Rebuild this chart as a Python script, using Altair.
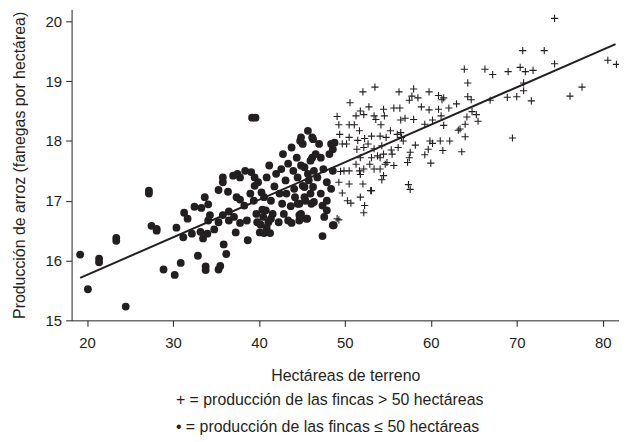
import altair as alt
import pandas as pd

# Fincas <= 50 hectáreas (puntos)
small_x = [19.2, 20.1, 21.4, 21.4, 23.4, 23.4, 24.5, 27.2, 27.2, 27.5, 28.1, 28.1, 28.9, 30.2, 30.4,
           30.9, 31.2, 31.3, 31.7, 32.2, 32.5, 32.9, 33.2, 33.3, 33.7, 33.8, 33.8, 33.5, 34.0, 34.1,
           34.3, 34.1, 34.8, 35.3, 35.3, 35.5, 35.3, 35.8, 35.8, 35.8, 35.9, 36.2, 36.4, 36.5, 36.5,
           37.0, 37.5, 37.8, 37.1, 37.3, 37.4, 37.8, 37.8, 38.3, 38.4, 38.7, 38.6, 39.2, 39.6, 39.1,
           39.5, 39.0, 39.4, 39.5, 39.7, 39.8, 40.1, 40.3, 39.9, 40.5, 40.6, 40.6, 40.8, 40.9, 41.2,
           41.1, 41.4, 41.3, 41.6, 41.8, 42.0, 42.3, 42.4, 42.6, 42.7, 42.8, 42.9, 43.1, 43.2, 43.4,
           43.4, 43.7, 43.8, 43.8, 44.0, 44.1, 44.2, 44.4, 44.5, 44.5, 44.7, 44.8, 44.9, 45.1, 45.3,
           45.3, 45.4, 45.6, 45.7, 45.8, 46.0, 46.2, 46.2, 46.4, 46.4,
           44.8, 46.3, 47.0, 48.4, 48.6, 48.2, 46.6, 47.2, 46.0, 44.9, 47.5, 48.6, 45.7, 46.8, 47.9,
           45.1, 46.3, 48.4, 47.2, 45.3, 47.9, 44.7, 46.1, 47.4, 47.9, 44.9, 47.6, 45.5, 48.6, 47.4,
           44.7, 48.7, 48.8, 40.2, 40.9, 41.4, 40.4]
small_y = [16.10, 15.52, 16.03, 15.97, 16.38, 16.33, 15.23, 17.17, 17.12, 16.58, 16.53, 16.50, 15.85, 15.76, 16.55,
           15.96, 16.39, 16.80, 16.70, 16.45, 16.90, 16.08, 16.48, 16.88, 17.06, 15.90, 15.84, 16.37, 16.45, 16.94,
           16.76, 16.67, 16.52, 16.64, 15.85, 15.91, 17.18, 17.39, 17.31, 16.76, 16.27, 16.11, 17.15, 16.82, 16.67,
           17.42, 17.45, 17.39, 16.73, 16.47, 17.06, 17.02, 16.63, 16.92, 17.50, 16.34, 16.67, 18.39, 18.39, 17.48,
           17.39, 17.12, 17.00, 17.25, 16.78, 16.64, 16.47, 17.14, 17.31, 16.73, 16.46, 17.06, 16.84, 17.39, 17.59,
           16.64, 17.00, 16.46, 16.78, 17.24, 17.45, 16.64, 17.12, 17.53, 16.95, 17.78, 16.78, 17.34, 17.12, 16.67,
           17.62, 16.91, 17.89, 16.63, 17.50, 17.20, 17.06, 17.72, 17.39, 16.95, 16.76, 16.73, 18.06, 17.95, 17.23,
           17.56, 17.00, 16.70, 18.17, 17.34, 17.12, 18.06, 17.72, 16.98, 17.50,
           18.00, 18.03, 17.95, 17.95, 17.86, 17.78, 17.78, 17.72, 17.67, 17.59, 17.53, 17.50, 17.45, 17.39, 17.31,
           17.25, 17.23, 17.20, 17.12, 17.06, 17.00, 16.95, 16.95, 16.92, 16.84, 16.78, 16.73, 16.70, 16.59, 16.41,
           16.67, 16.59, 17.97, 16.60, 16.55, 16.70, 16.85]

# Fincas > 50 hectáreas (cruces)
large_x = [74.4, 70.7, 73.2, 74.4, 80.6, 81.6, 63.9, 66.3, 67.2, 69.0, 70.4, 71.0, 71.9, 64.3, 70.8,
           70.8, 77.6, 76.2, 71.7, 68.9, 70.0, 66.9, 64.3, 64.7, 63.0, 62.1, 64.8, 65.3, 64.2, 65.5,
           64.0, 63.4, 63.2, 64.0, 63.6, 69.5, 61.5, 60.9, 59.8, 61.3, 58.0, 57.5, 58.5, 56.3, 57.8,
           53.5, 52.1, 50.6, 52.8, 51.8, 54.5, 55.7, 56.4, 58.9, 59.8, 60.9, 49.1, 51.3, 52.2, 53.4,
           54.6, 49.3, 50.5, 51.1, 53.6, 54.2, 56.5, 57.0, 58.0, 59.3, 60.2, 61.2, 61.5, 49.4, 51.7,
           50.5, 51.5, 52.3, 53.1, 54.1, 54.8, 56.1, 56.6, 55.3, 49.7, 50.2, 51.4, 52.2, 52.7, 53.4,
           54.3, 54.5, 55.4, 55.5, 53.8, 54.1, 53.1, 52.9, 51.8, 51.3, 50.5, 49.5, 49.9, 51.7, 52.2,
           51.8, 53.4, 54.1, 54.7, 54.9, 55.7, 54.3, 54.5, 53.1, 52.1, 50.5, 49.3, 49.7, 50.3, 50.7,
           51.8, 52.3, 52.2, 49.3, 57.4, 57.6, 57.3, 57.5, 57.6, 58.2, 59.3, 59.7, 60.0, 59.9, 60.2,
           61.1, 61.4, 62.2, 56.5, 56.8, 56.2, 49.1, 53.0]
large_y = [20.05, 19.51, 19.51, 19.29, 19.35, 19.28, 19.20, 19.20, 19.11, 19.16, 19.23, 19.16, 19.18, 18.97, 18.97,
           18.84, 18.90, 18.75, 18.67, 18.73, 18.74, 18.68, 18.74, 18.69, 18.62, 18.55, 18.49, 18.44, 18.40, 18.33,
           18.28, 18.20, 18.18, 18.07, 17.82, 18.05, 18.72, 18.76, 18.82, 18.69, 18.87, 18.68, 18.72, 18.82, 18.75,
           18.90, 18.82, 18.64, 18.57, 18.50, 18.53, 18.55, 18.55, 18.57, 18.52, 18.53, 18.41, 18.42, 18.44, 18.42,
           18.42, 18.27, 18.27, 18.27, 18.36, 18.27, 18.35, 18.38, 18.36, 18.28, 18.35, 18.42, 18.26, 18.11, 18.17,
           18.06, 18.01, 18.04, 18.08, 18.08, 18.06, 18.11, 18.06, 18.17, 17.95, 17.95, 17.86, 17.89, 17.95, 17.87,
           17.92, 17.78, 17.85, 17.78, 17.75, 17.72, 17.72, 17.61, 17.72, 17.61, 17.50, 17.49, 17.50, 17.50, 17.53,
           17.44, 17.53, 17.53, 17.61, 17.64, 17.59, 17.35, 17.42, 17.17, 17.28, 17.28, 17.31, 17.13, 17.00, 16.96,
           17.06, 16.92, 16.80, 16.68, 17.27, 17.19, 17.64, 17.72, 17.81, 17.93, 17.77, 17.86, 17.63, 18.00, 17.96,
           18.00, 17.84, 18.00, 18.14, 18.00, 17.89, 16.70, 17.17]

# Recta de regresión (extremos)
fit_x = [19.2, 81.5]
fit_y = [15.71, 19.62]

x_ticks = [20, 30, 40, 50, 60, 70, 80]
y_ticks = [15, 16, 17, 18, 19, 20]

legend_lines = ["+ = producción de las fincas > 50 hectáreas",
                "• = producción de las fincas ≤ 50 hectáreas"]

INK = "#231f20"
FONT = "Liberation Sans"

small_df = pd.DataFrame({"x": small_x, "y": small_y})
large_df = pd.DataFrame({"x": large_x, "y": large_y})
fit_df = pd.DataFrame({"x": fit_x, "y": fit_y})

xs = alt.Scale(domain=[18.2, 81.9], nice=False, zero=False)
ys = alt.Scale(domain=[15, 20.2], nice=False, zero=False)

xenc = alt.X("x:Q", scale=xs, title="Hectáreas de terreno",
             axis=alt.Axis(values=x_ticks, format="d", tickSize=6, labelPadding=9, titlePadding=18))
yenc = alt.Y("y:Q", scale=ys, title="Producción de arroz (fanegas por hectárea)",
             axis=alt.Axis(values=y_ticks, format="d", tickSize=6, labelPadding=4, titlePadding=18))

dots = alt.Chart(small_df).mark_circle(size=62, color=INK, opacity=1).encode(x=xenc, y=yenc)
plus = alt.Chart(large_df).mark_point(shape="M-1,0H1M0,-1V1", size=52, filled=False,
                                      strokeWidth=1.1, color=INK, opacity=1).encode(x="x:Q", y="y:Q")
line = alt.Chart(fit_df).mark_line(color=INK, strokeWidth=2).encode(x="x:Q", y="y:Q")

leg1 = alt.Chart(pd.DataFrame({"t": [legend_lines[0]]})).mark_text(
    align="left", baseline="middle", font=FONT, fontSize=16, color=INK
).encode(x=alt.value(105), y=alt.value(393), text="t:N")
leg2 = alt.Chart(pd.DataFrame({"t": [legend_lines[1]]})).mark_text(
    align="left", baseline="middle", font=FONT, fontSize=16, color=INK
).encode(x=alt.value(105), y=alt.value(420), text="t:N")

chart = alt.layer(dots, plus, line, leg1, leg2).properties(
    width=551, height=313,
    autosize=alt.AutoSizeParams(type="none"),
    padding={"left": 64, "top": 0, "right": 0, "bottom": 115},
).configure_view(stroke=None).configure_axis(
    grid=False, domainColor=INK, tickColor=INK, labelColor=INK, titleColor=INK,
    labelFont=FONT, titleFont=FONT, labelFontSize=15, titleFontSize=16,
    titleFontWeight="normal", domainWidth=1, tickWidth=1,
)

chart.save("out.html", embed_options={"renderer": "svg", "actions": False})
